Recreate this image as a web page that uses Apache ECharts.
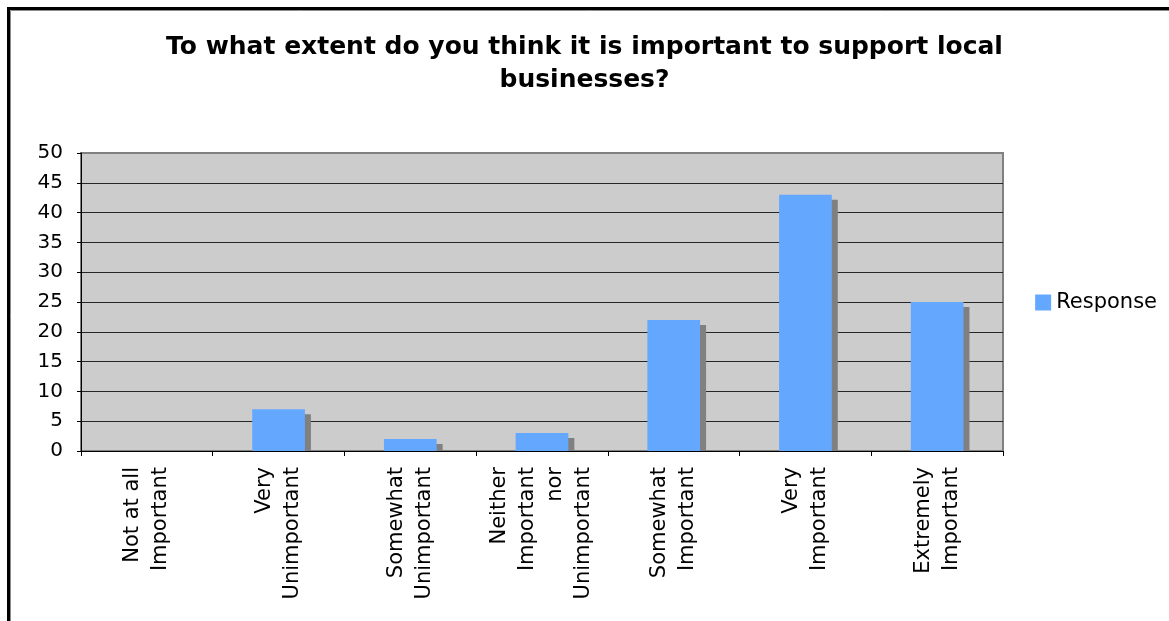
<!DOCTYPE html>
<html>
<head>
<meta charset="utf-8">
<script src="https://cdn.jsdelivr.net/npm/echarts@6/dist/echarts.min.js"></script>
<style>
  html, body { margin: 0; padding: 0; background: #ffffff; }
  #chart { width: 1169px; height: 621px; }
</style>
</head>
<body>
<div id="chart"></div>
<script>
// Survey answers: importance of supporting local businesses
const titleText = 'To what extent do you think it is important to support local\nbusinesses?';
const categories = [
  'Not at all\nImportant',
  'Very\nUnimportant',
  'Somewhat\nUnimportant',
  'Neither\nImportant\nnor\nUnimportant',
  'Somewhat\nImportant',
  'Very\nImportant',
  'Extremely\nImportant'
];
const responses = [0, 7, 2, 3, 22, 43, 25];
const seriesName = 'Response';
const yTicks = { min: 0, max: 50, interval: 5 };

const FONT = '"DejaVu Sans", Verdana, sans-serif';
const BAR_RATIO = 0.4;          // bar width as a share of the category band
const SHADOW_DX = 6, SHADOW_DY = 5;

const chart = echarts.init(document.getElementById('chart'), null, { renderer: 'canvas' });

// Flat drop shadow behind each bar, cut off at the category axis
function renderShadow(params, api) {
  const v = api.value(1);
  if (!v) return null;
  const top = api.coord([api.value(0), v]);
  const base = api.coord([api.value(0), 0]);
  const bw = api.size([1, 0])[0] * BAR_RATIO;
  const y0 = top[1] + SHADOW_DY;
  return {
    type: 'rect',
    shape: { x: top[0] - bw / 2 + SHADOW_DX, y: y0, width: bw, height: Math.max(0, base[1] - y0) },
    style: { fill: '#808080' }
  };
}

chart.setOption({
  backgroundColor: '#ffffff',
  animation: false,
  graphic: [{
    // outer chart frame (runs past the right and bottom edges)
    type: 'rect',
    shape: { x: 8.5, y: 8.5, width: 1200, height: 700 },
    style: { fill: null, stroke: '#000000', lineWidth: 3 },
    z: 100
  }, {
    type: 'rect',
    shape: { x: 10.5, y: 10.5, width: 1200, height: 700 },
    style: { fill: null, stroke: '#8c8c8c', lineWidth: 1 },
    z: 99
  }],
  title: {
    text: titleText,
    left: 'center',
    top: 26,
    textStyle: {
      fontFamily: FONT,
      fontWeight: 'bold',
      fontSize: 25,
      lineHeight: 33,
      color: '#000000'
    }
  },
  legend: {
    data: [seriesName],
    right: 7,
    top: 287,
    orient: 'vertical',
    itemWidth: 16,
    itemHeight: 16,
    icon: 'rect',
    textStyle: { fontFamily: FONT, fontSize: 21, color: '#000000' }
  },
  grid: {
    left: 81,
    top: 153,
    width: 922,
    height: 298,
    show: true,
    backgroundColor: '#cccccc',
    borderColor: '#808080',
    borderWidth: 2
  },
  xAxis: {
    type: 'category',
    data: categories,
    axisLine: { show: true, lineStyle: { color: '#000000', width: 1 } },
    axisTick: { show: true, length: 5, lineStyle: { color: '#000000' } },
    axisLabel: {
      rotate: 90,
      interval: 0,
      margin: 16,
      fontFamily: FONT,
      fontSize: 21,
      lineHeight: 28,
      color: '#000000'
    },
    splitLine: { show: false }
  },
  yAxis: {
    type: 'value',
    min: yTicks.min,
    max: yTicks.max,
    interval: yTicks.interval,
    axisLine: { show: true, lineStyle: { color: '#000000', width: 1 } },
    axisTick: { show: true, length: 4, lineStyle: { color: '#000000' } },
    axisLabel: {
      margin: 18,
      fontFamily: FONT,
      fontSize: 20,
      color: '#000000'
    },
    splitLine: {
      show: true,
      showMinLine: false,
      showMaxLine: false,
      lineStyle: { color: '#262626', width: 1 }
    }
  },
  series: [{
    name: 'shadow',
    type: 'custom',
    renderItem: renderShadow,
    data: responses.map((v, i) => [i, v]),
    z: 1,
    silent: true
  }, {
    name: seriesName,
    type: 'bar',
    data: responses,
    barWidth: (BAR_RATIO * 100) + '%',
    z: 2,
    itemStyle: { color: '#63a8fe' },
    emphasis: { disabled: true }
  }]
});
</script>
</body>
</html>
